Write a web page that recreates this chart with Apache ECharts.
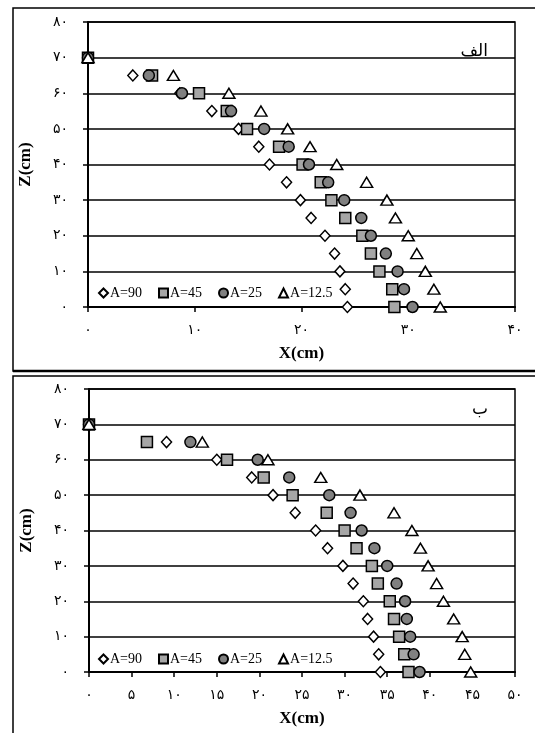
<!DOCTYPE html>
<html>
<head>
<meta charset="utf-8">
<script src="https://cdn.jsdelivr.net/npm/echarts@6/dist/echarts.min.js"></script>
<style>
html,body{margin:0;padding:0;background:#fff;}
#chart{width:535px;height:733px;}
</style>
</head>
<body>
<div id="chart"></div>
<script>
// Z levels (cm)
var zLevels = [0, 5, 10, 15, 20, 25, 30, 35, 40, 45, 50, 55, 60, 65, 70];
var seriesNames = ['A=90', 'A=45', 'A=25', 'A=12.5'];

// Panel "الف" X values (cm) at each Z level
var topA90  = [24.3, 24.1, 23.6, 23.1, 22.2, 20.9, 19.9, 18.6, 17.0, 16.0, 14.1, 11.6, 8.6, 4.2, 0];
var topA45  = [28.7, 28.5, 27.3, 26.5, 25.7, 24.1, 22.8, 21.8, 20.1, 17.9, 14.9, 13.0, 10.4, 6.0, 0];
var topA25  = [30.4, 29.6, 29.0, 27.9, 26.5, 25.6, 24.0, 22.5, 20.7, 18.8, 16.5, 13.4, 8.8, 5.7, 0];
var topA125 = [33.0, 32.4, 31.6, 30.8, 30.0, 28.8, 28.0, 26.1, 23.3, 20.8, 18.7, 16.2, 13.2, 8.0, 0];

// Panel "ب" X values (cm) at each Z level
var botA90  = [34.2, 34.0, 33.4, 32.7, 32.2, 31.0, 29.8, 28.0, 26.6, 24.2, 21.6, 19.1, 15.0, 9.1, 0];
var botA45  = [37.5, 37.0, 36.4, 35.8, 35.3, 33.9, 33.2, 31.4, 30.0, 27.9, 23.9, 20.5, 16.2, 6.8, 0];
var botA25  = [38.8, 38.1, 37.7, 37.3, 37.1, 36.1, 35.0, 33.5, 32.0, 30.7, 28.2, 23.5, 19.8, 11.9, 0];
var botA125 = [44.8, 44.1, 43.8, 42.8, 41.6, 40.8, 39.8, 38.9, 37.9, 35.8, 31.8, 27.2, 21.0, 13.3, 0];

var panelTitles = ['الف', 'ب'];
var persianDigits = ['۰','۱','۲','۳','۴','۵','۶','۷','۸','۹'];

function toPersian(v) {
  return String(v).replace(/[0-9]/g, function (d) { return persianDigits[+d]; });
}
function pairs(xs) {
  return xs.map(function (x, i) { return [x, zLevels[i]]; });
}

var styles = [
  { symbol: 'diamond', size: [10, 11], color: '#ffffff' },
  { symbol: 'rect', size: 11, color: '#a6a6a6' },
  { symbol: 'circle', size: 11, color: '#808080' },
  { symbol: 'triangle', size: [12, 10], color: '#ffffff' }
];

var topData = [topA90, topA45, topA25, topA125];
var botData = [botA90, botA45, botA25, botA125];

var series = [];
[topData, botData].forEach(function (panel, p) {
  panel.forEach(function (xs, k) {
    series.push({
      type: 'scatter',
      name: seriesNames[k],
      xAxisIndex: p,
      yAxisIndex: p,
      symbol: styles[k].symbol,
      symbolSize: styles[k].size,
      clip: false,
      itemStyle: { color: styles[k].color, borderColor: '#000', borderWidth: 1.5, opacity: 1 },
      emphasis: { disabled: true },
      data: pairs(xs),
      z: 3 + k
    });
  });
});

var serif = 'Liberation Serif';
var digitFont = 'DejaVu Sans';

function xAxis(gi, max, interval) {
  return {
    type: 'value', gridIndex: gi, min: 0, max: max, interval: interval,
    name: 'X(cm)', nameLocation: 'middle', nameGap: 38,
    nameTextStyle: { fontFamily: serif, fontWeight: 'bold', fontSize: 17, color: '#000' },
    axisLine: { show: true, onZero: false, lineStyle: { color: '#000', width: 2 } },
    axisTick: { show: true, length: 5, lineStyle: { color: '#000', width: 1.5 } },
    axisLabel: { margin: 16, fontFamily: digitFont, fontSize: 14, color: '#000',
      formatter: function (v) { return toPersian(v); } },
    splitLine: { show: false }
  };
}
function yAxis(gi) {
  return {
    type: 'value', gridIndex: gi, min: 0, max: 80, interval: 10,
    name: 'Z(cm)', nameLocation: 'middle', nameGap: 54,
    nameTextStyle: { fontFamily: serif, fontWeight: 'bold', fontSize: 17, color: '#000' },
    axisLine: { show: true, onZero: false, lineStyle: { color: '#000', width: 2 } },
    axisTick: { show: true, length: 5, lineStyle: { color: '#000', width: 1.5 } },
    axisLabel: { margin: 20, fontFamily: digitFont, fontSize: 14, color: '#000',
      formatter: function (v) { return toPersian(v); } },
    splitLine: { show: true, lineStyle: { color: '#000', width: 1.5 } }
  };
}

function legend(top) {
  return {
    left: 93, top: top, orient: 'horizontal',
    itemWidth: 9, itemHeight: 9, itemGap: 16,
    data: seriesNames,
    selectedMode: false,
    textStyle: { fontFamily: serif, fontSize: 14, color: '#000', padding: [0, 0, 0, -3] }
  };
}

var option = {
  animation: false,
  backgroundColor: '#fff',
  grid: [
    { left: 88, top: 22, width: 427, height: 285, show: true, borderColor: '#000', borderWidth: 1.5, backgroundColor: 'transparent' },
    { left: 89, top: 389, width: 426, height: 283, show: true, borderColor: '#000', borderWidth: 1.5, backgroundColor: 'transparent' }
  ],
  xAxis: [xAxis(0, 40, 10), xAxis(1, 50, 5)],
  yAxis: [yAxis(0), yAxis(1)],
  legend: [legend(281), legend(647)],
  title: [
    { text: panelTitles[0], right: 42, top: 38, textStyle: { fontFamily: 'DejaVu Sans', fontWeight: 'normal', fontSize: 17, color: '#000' } },
    { text: panelTitles[1], right: 42, top: 396, textStyle: { fontFamily: 'DejaVu Sans', fontWeight: 'normal', fontSize: 17, color: '#000' } }
  ],
  graphic: [
    { type: 'rect', shape: { x: 13, y: 8, width: 560, height: 363 }, style: { fill: 'none', stroke: '#000', lineWidth: 1.5 }, z: 10, silent: true },
    { type: 'line', shape: { x1: 13, y1: 371, x2: 540, y2: 371 }, style: { stroke: '#000', lineWidth: 2.5 }, z: 10, silent: true },
    { type: 'rect', shape: { x: 13, y: 376, width: 560, height: 400 }, style: { fill: 'none', stroke: '#000', lineWidth: 1.5 }, z: 10, silent: true }
  ],
  series: series
};

var chart = echarts.init(document.getElementById('chart'), null, { renderer: 'canvas' });
chart.setOption(option);
</script>
</body>
</html>
